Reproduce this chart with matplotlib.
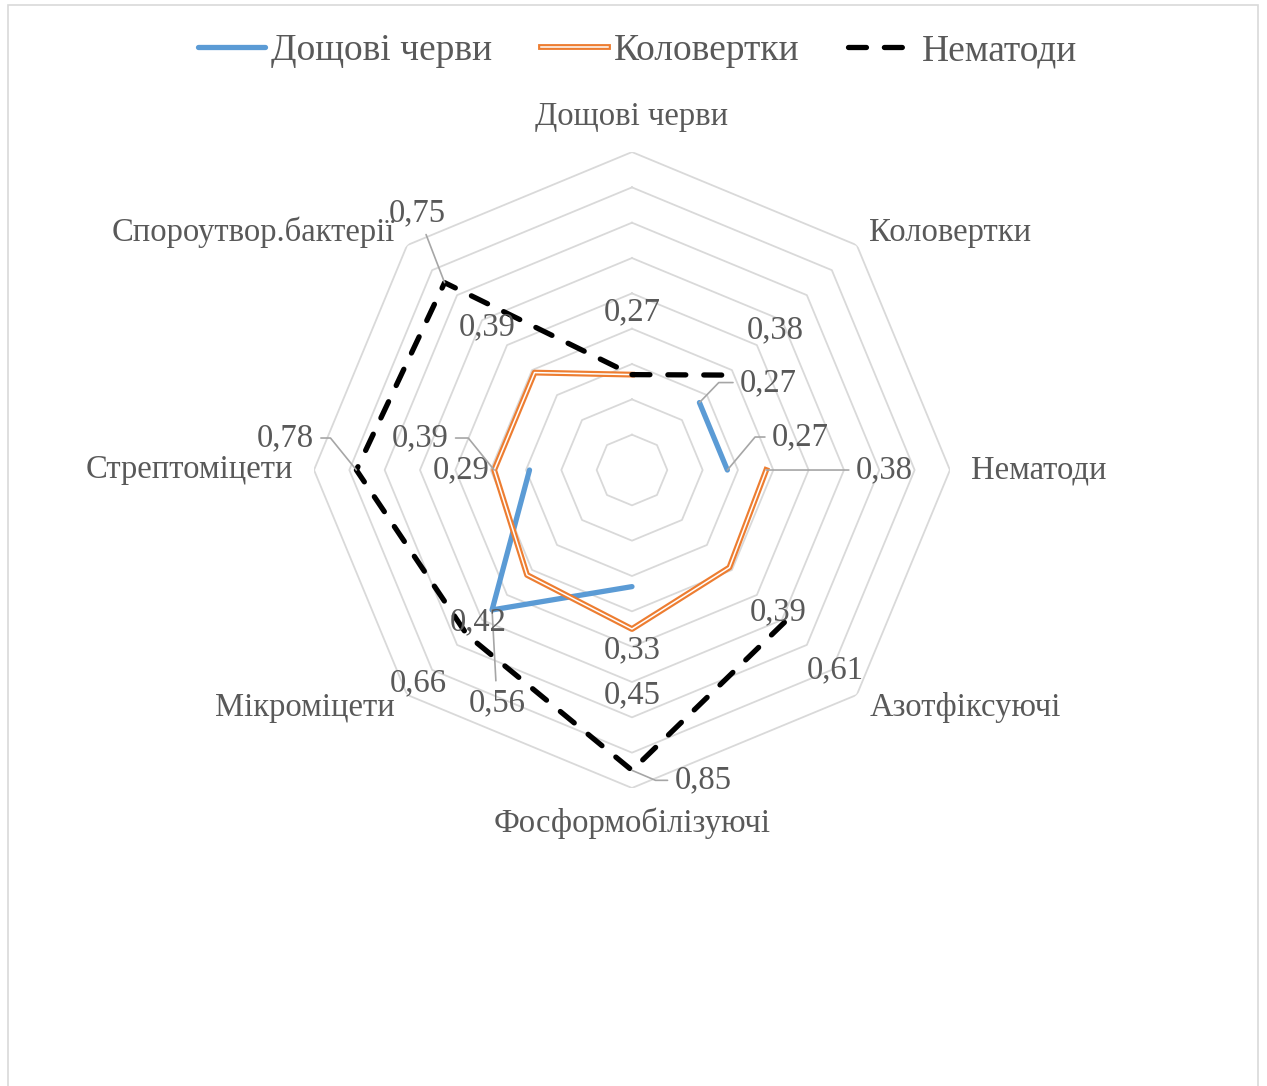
import numpy as np
import matplotlib
matplotlib.use("Agg")
import matplotlib.pyplot as plt
import matplotlib.patheffects as pe
from matplotlib.patches import Rectangle


# categories clockwise from the top
categories = ["Дощові черви", "Коловертки", "Нематоди", "Азотфіксуючі",
              "Фосформобілізуючі", "Мікроміцети", "Стрептоміцети",
              "Спороутвор.бактерії"]

series_names = ["Дощові черви", "Коловертки", "Нематоди"]
earthworms = [np.nan, 0.27, 0.27, np.nan, 0.33, 0.56, 0.29, np.nan]
rotifers = [0.27, np.nan, 0.38, 0.39, 0.45, 0.42, 0.39, 0.39]
nematodes = [0.27, 0.38, np.nan, 0.61, 0.85, 0.66, 0.78, 0.75]

ring_levels = [0.1, 0.2, 0.3, 0.4, 0.5, 0.6, 0.7, 0.8, 0.9]

# label placement (pixel offsets from the point) and leader angles
# None -> no label / no leader, "s" -> straight leader, number -> elbow angle
earthworm_offsets = [None, (69, 20), (73, 33), None, (0, -63), (5, -93), (-68, 0), None]
earthworm_leaders = [None, 46, 50, None, None, "s", None, None]
rotifer_offsets = [(0, 63), None, (118, 0), (49, -45), (0, -66), (-49, -47), (-74, 32), (-47, 46)]
rotifer_leaders = [None, None, "s", None, None, None, 129, None]
nematode_offsets = [None, (48, 45), None, (51, -48), (71, -10), (-49, -48), (-71, 32), (-27, 70)]
nematode_leaders = [None, None, None, None, -23, None, 129, "s"]

GRAY_TEXT = "#595959"
GRID = "#d9d9d9"
LEADER = "#a6a6a6"
BLUE = "#5B9BD5"
ORANGE = "#ED7D31"
FONT = "Liberation Serif"
LABEL_SIZE = 23.5


def add_labels(ax, theta, values, offsets, leaders):
    for t, v, off, lead in zip(theta, values, offsets, leaders):
        if off is None or np.isnan(v):
            continue
        text = f"{v:.2f}".replace(".", ",")
        kw = dict(xy=(t, v), xytext=off, textcoords="offset pixels",
                  ha="center", va="center", fontsize=LABEL_SIZE, color=GRAY_TEXT,
                  family=FONT, annotation_clip=False)
        if lead is not None:
            if lead == "s":
                conn = "arc3"
            else:
                conn = f"angle,angleA=0,angleB={lead},rad=0"
            kw["arrowprops"] = dict(arrowstyle="-", color=LEADER, lw=1.2,
                                    shrinkA=3, shrinkB=0, connectionstyle=conn)
        ax.annotate(text, **kw)


def main():
    fig = plt.figure(figsize=(12.67, 10.86), dpi=100)
    fig.patch.set_facecolor("white")

    # light chart-area border
    fig.add_artist(Rectangle((8 / 1267, -0.01), 1250 / 1267, 1.0 - 5 / 1086 + 0.01,
                             transform=fig.transFigure, fill=False,
                             edgecolor=GRID, lw=1.2))

    ax = fig.add_axes([0.2478, 0.2744, 0.502, 0.5856], projection="polar")
    ax.set_theta_zero_location("N")
    ax.set_theta_direction(-1)
    ax.set_ylim(0, 0.9)
    ax.grid(False)
    ax.spines["polar"].set_visible(False)
    ax.set_xticks([])
    ax.set_yticks([])
    ax.patch.set_alpha(0)

    n = len(categories)
    theta = np.arange(n) * 2 * np.pi / n
    theta_closed = np.append(theta, theta[0])

    # octagon grid rings
    for lvl in ring_levels:
        ax.plot(theta_closed, [lvl] * (n + 1), color=GRID, lw=1.3, zorder=1)

    def closed(vals):
        return np.append(vals, vals[0])

    ax.plot(theta_closed, closed(earthworms), color=BLUE, lw=3.8,
            solid_capstyle="round", label=series_names[0], zorder=3)
    ax.plot(theta_closed, closed(rotifers), color="white", lw=1.1,
            path_effects=[pe.Stroke(linewidth=4.2, foreground=ORANGE), pe.Normal()],
            label=series_names[1], zorder=3)
    ax.plot(theta_closed, closed(nematodes), color="black", lw=3.8,
            dashes=(3.4, 3.4), dash_capstyle="round", label=series_names[2], zorder=3)

    # category labels
    cat_r = [1.0, 0.95, 0.96, 0.95, 1.0, 0.95, 0.96, 0.95]
    cat_ha = ["center", "left", "left", "left", "center", "right", "right", "right"]
    for t, name, r, ha in zip(theta, categories, cat_r, cat_ha):
        ax.text(t, r, name, ha=ha, va="center", fontsize=LABEL_SIZE,
                color=GRAY_TEXT, family=FONT, clip_on=False)

    add_labels(ax, theta, earthworms, earthworm_offsets, earthworm_leaders)
    add_labels(ax, theta, rotifers, rotifer_offsets, rotifer_leaders)
    add_labels(ax, theta, nematodes, nematode_offsets, nematode_leaders)

    leg = fig.legend(loc="center", bbox_to_anchor=(0.503, 1 - 51 / 1086), ncol=3,
                     frameon=False, handlelength=1.8, handletextpad=0.15,
                     columnspacing=1.3,
                     prop={"family": FONT, "size": 27})
    for txt in leg.get_texts():
        txt.set_color(GRAY_TEXT)

    fig.savefig("out.png", dpi=100)


if __name__ == "__main__":
    main()
